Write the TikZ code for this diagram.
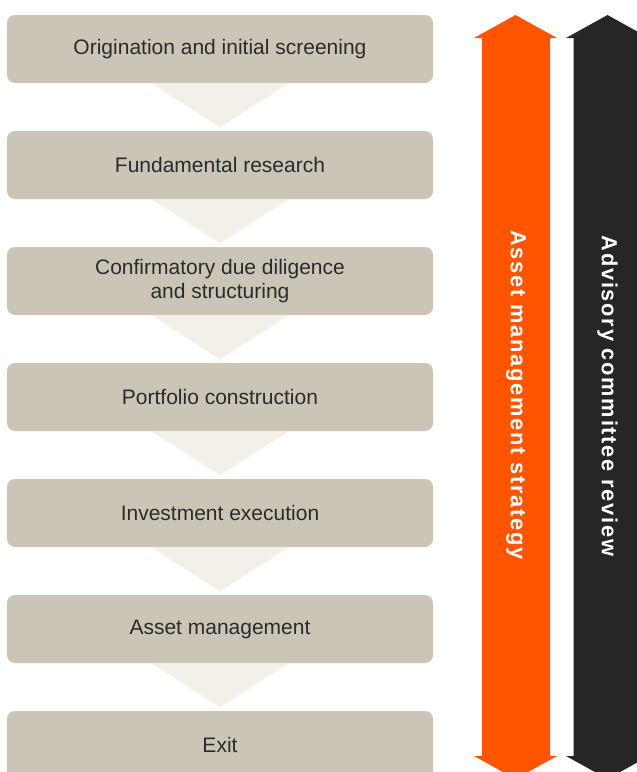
\documentclass[tikz,border=0pt]{standalone}
\usepackage{fontspec}
\setmainfont{Liberation Sans}
\newfontfamily\sidefont[LetterSpace=8]{Liberation Sans}
\definecolor{boxc}{HTML}{CBC5B7}
\definecolor{chev}{HTML}{F2F0E8}
\definecolor{orng}{HTML}{FF5500}
\definecolor{dark}{HTML}{262626}
\definecolor{txt}{HTML}{2B2B2B}
\usetikzlibrary{calc}
\begin{document}
\begin{tikzpicture}[x=1pt,y=-1pt,
  stage/.style={fill=boxc,rounded corners=8pt,minimum width=426pt,minimum height=68pt,inner sep=0pt,
    text=txt,font=\fontsize{21}{23.5}\selectfont,align=center},
  chevron/.style={fill=chev},
  sidelabel/.style={rotate=-90,text=white,font=\sidefont\bfseries\fontsize{21.8}{24}\selectfont}]
\useasboundingbox (0,0) rectangle (637,772);
\clip (0,0) rectangle (637,772);
\node[stage] (s1) at (220,49) {Origination and initial screening};
\node[stage] (s2) at (220,165) {Fundamental research};
\node[stage] (s3) at (220,281) {Confirmatory due diligence\\and structuring};
\node[stage] (s4) at (220,397) {Portfolio construction};
\node[stage] (s5) at (220,513) {Investment execution};
\node[stage] (s6) at (220,629) {Asset management};
\node[stage] (s7) at (220,745) {Exit};
\foreach \a in {1,...,6}{
  \fill[chevron] ([xshift=-69pt]s\a.south) -- ([xshift=69pt]s\a.south) -- ($(s\a.south)+(0,44)$) -- cycle;
}
% orange double arrow
\fill[orng] (515.5,15) -- (557,38) -- (550,38) -- (550,756) -- (557,756) -- (515.5,779)
  -- (474,756) -- (482,756) -- (482,38) -- (474,38) -- cycle;
\node[sidelabel] (am) at (516,395) {Asset management strategy};
% dark double arrow
\fill[dark] (607.5,15) -- (649,38) -- (641.5,38) -- (641.5,756) -- (649,756) -- (607.5,779)
  -- (566,756) -- (573.5,756) -- (573.5,38) -- (566,38) -- cycle;
\node[sidelabel] (ac) at (607.5,396) {Advisory committee review};
\end{tikzpicture}
\end{document}
